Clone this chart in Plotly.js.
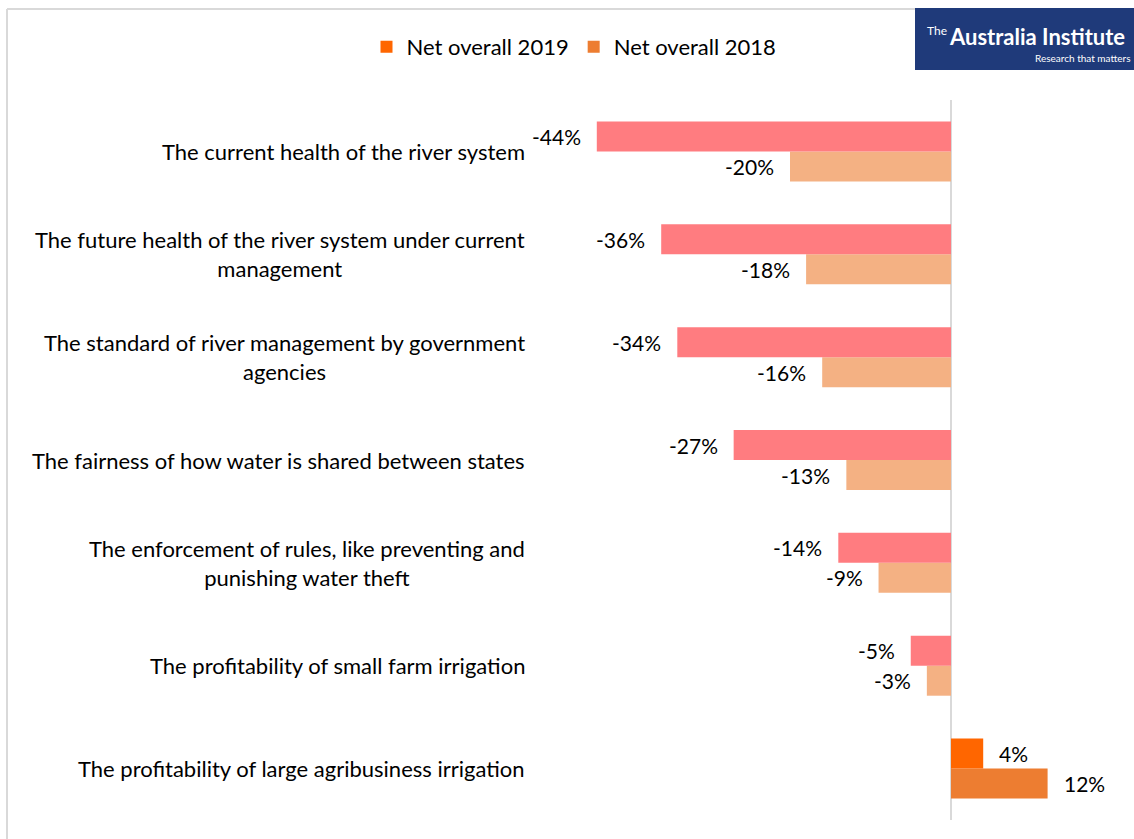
<!DOCTYPE html>
<html>
<head>
<meta charset="utf-8">
<script src="https://cdn.plot.ly/plotly-3.0.1.min.js"></script>
<style>html,body{margin:0;padding:0;background:#fff;}#chart{width:1134px;height:839px;}</style>
</head>
<body>
<div id="chart"></div>
<script>
// Categories listed bottom-to-top
const categories = [
  "The profitability of large agribusiness irrigation",
  "The profitability of small farm irrigation",
  "The enforcement of rules, like preventing and<br>punishing water theft",
  "The fairness of how water is shared between states",
  "The standard of river management by government<br>agencies",
  "The future health of the river system under current<br>management",
  "The current health of the river system"
];
const net2019 = [4, -5, -14, -27, -34, -36, -44];
const net2018 = [12, -3, -9, -13, -16, -18, -20];
const seriesNames = ["Net overall 2019", "Net overall 2018"];

const FONT = "Lato, 'Open Sans', sans-serif";
const W = 1134, H = 839;
const M = {l: 530, r: 11, t: 100, b: 19};
const PW = W - M.l - M.r, PH = H - M.t - M.b;
const px2x = p => (p - M.l) / PW;
const px2y = p => 1 - (p - M.t) / PH;

const col2019 = v => v < 0 ? "#FF7C80" : "#FF6600";
const col2018 = v => v < 0 ? "#F4B183" : "#ED7D31";

const traces = [
  {type: "bar", orientation: "h", name: seriesNames[1], y: categories, x: net2018,
   marker: {color: net2018.map(col2018)}, hoverinfo: "x+y"},
  {type: "bar", orientation: "h", name: seriesNames[0], y: categories, x: net2019,
   marker: {color: net2019.map(col2019)}, hoverinfo: "x+y"}
];

const annotations = [];
// category labels
categories.forEach(c => annotations.push({
  xref: "paper", yref: "y", x: px2x(527), y: c, xanchor: "right", yanchor: "middle",
  text: c, align: "center", showarrow: false, font: {family: FONT, size: 22, color: "#000"}
}));
// value labels
function addVals(vals, shift) {
  vals.forEach((v, i) => annotations.push({
    xref: "x", yref: "y", x: v, y: categories[i], yshift: shift,
    xanchor: v < 0 ? "right" : "left", xshift: v < 0 ? -14 : 14, yanchor: "middle",
    text: v + "%", showarrow: false, font: {family: FONT, size: 21, color: "#000"}
  }));
}
addVals(net2019, 15);
addVals(net2018, -15);
// logo
annotations.push({xref: "paper", yref: "paper", x: px2x(925), y: px2y(31), xanchor: "left", yanchor: "middle",
  text: "The", showarrow: false, font: {family: "Lato, sans-serif", size: 12, color: "#fff"}});
annotations.push({xref: "paper", yref: "paper", x: px2x(947), y: px2y(36), xanchor: "left", yanchor: "middle",
  text: "<b>Australia Institute</b>", showarrow: false, font: {family: "Lato, sans-serif", size: 22, color: "#fff"}});
annotations.push({xref: "paper", yref: "paper", x: px2x(1133), y: px2y(58), xanchor: "right", yanchor: "middle",
  text: "Research that matters", showarrow: false, font: {family: "Lato, sans-serif", size: 10, color: "#fff"}});

const shapes = [
  {type: "line", xref: "paper", yref: "paper", x0: px2x(7), x1: px2x(7), y0: px2y(9), y1: px2y(845), line: {color: "#d9d9d9", width: 2}},
  {type: "line", xref: "paper", yref: "paper", x0: px2x(7), x1: px2x(1140), y0: px2y(9), y1: px2y(9), line: {color: "#d9d9d9", width: 2}},
  {type: "rect", xref: "paper", yref: "paper", x0: px2x(915), x1: px2x(1140), y0: px2y(70), y1: px2y(8), fillcolor: "#1F3A7A", line: {width: 0}}
];

const layout = {
  width: W, height: H, margin: M,
  paper_bgcolor: "#fff", plot_bgcolor: "#fff",
  barmode: "group", bargap: 0.4167, bargroupgap: 0,
  font: {family: FONT, size: 20, color: "#000"},
  xaxis: {range: [(M.l - 951) / 8.05, (W - M.r - 951) / 8.05], showgrid: false, showticklabels: false,
          zeroline: true, zerolinecolor: "#d9d9d9", zerolinewidth: 2, showline: false, ticks: ""},
  yaxis: {type: "category", showticklabels: false, showgrid: false, zeroline: false, ticks: "", showline: false},
  showlegend: true,
  legend: {orientation: "h", traceorder: "reversed", x: px2x(574), xanchor: "center", y: px2y(47), yanchor: "middle",
           font: {family: FONT, size: 22, color: "#000"}, itemclick: false, itemwidth: 30},
  annotations: annotations, shapes: shapes
};

Plotly.newPlot("chart", traces, layout, {displayModeBar: false, staticPlot: true});
</script>
</body>
</html>
